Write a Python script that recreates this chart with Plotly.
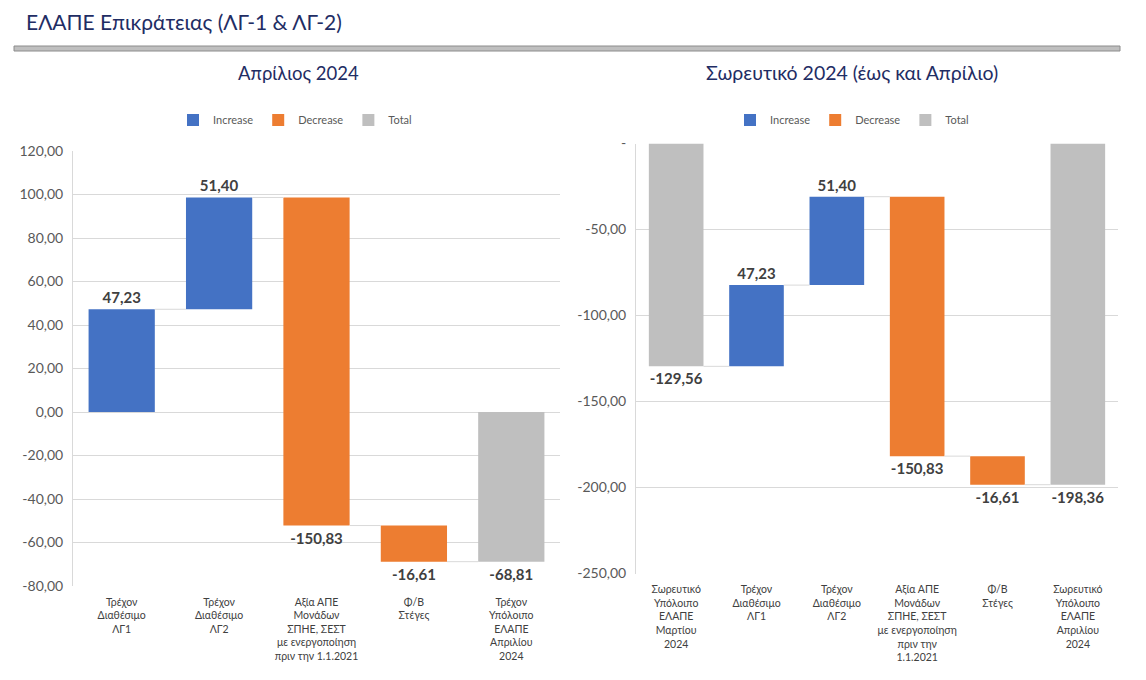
import plotly.graph_objects as go

# ---------------- data ----------------
title_main = "ΕΛΑΠΕ Επικράτειας (ΛΓ-1 & ΛΓ-2)"
left_title = "Απρίλιος 2024"
right_title = "Σωρευτικό 2024 (έως και Απρίλιο)"

left_categories = [
    "Τρέχον<br>Διαθέσιμο<br>ΛΓ1",
    "Τρέχον<br>Διαθέσιμο<br>ΛΓ2",
    "Αξία ΑΠΕ<br>Μονάδων<br>ΣΠΗΕ, ΣΕΣΤ<br>με ενεργοποίηση<br>πριν την 1.1.2021",
    "Φ/Β<br>Στέγες",
    "Τρέχον<br>Υπόλοιπο<br>ΕΛΑΠΕ<br>Απριλίου<br>2024",
]
left_values = [47.23, 51.40, -150.83, -16.61, -68.81]
left_kinds = ["Increase", "Increase", "Decrease", "Decrease", "Total"]
left_tickvals = [120, 100, 80, 60, 40, 20, 0, -20, -40, -60, -80]
left_ticktext = ["120,00", "100,00", "80,00", "60,00", "40,00", "20,00",
                 "0,00", "-20,00", "-40,00", "-60,00", "-80,00"]

right_categories = [
    "Σωρευτικό<br>Υπόλοιπο<br>ΕΛΑΠΕ<br>Μαρτίου<br>2024",
    "Τρέχον<br>Διαθέσιμο<br>ΛΓ1",
    "Τρέχον<br>Διαθέσιμο<br>ΛΓ2",
    "Αξία ΑΠΕ<br>Μονάδων<br>ΣΠΗΕ, ΣΕΣΤ<br>με ενεργοποίηση<br>πριν την<br>1.1.2021",
    "Φ/Β<br>Στέγες",
    "Σωρευτικό<br>Υπόλοιπο<br>ΕΛΑΠΕ<br>Απριλίου<br>2024",
]
right_values = [-129.56, 47.23, 51.40, -150.83, -16.61, -198.36]
right_kinds = ["Total", "Increase", "Increase", "Decrease", "Decrease", "Total"]
right_tickvals = [0, -50, -100, -150, -200, -250]
right_ticktext = ["-", "-50,00", "-100,00", "-150,00", "-200,00", "-250,00"]

# ---------------- style ----------------
W, H = 1146, 680
FONT = "Lato, 'Noto Sans', sans-serif"
NAVY = "#1F2D64"
COLORS = {"Increase": "#4472C4", "Decrease": "#ED7D31", "Total": "#BFBFBF"}
GRID = "#D9D9D9"
BAR_W = 0.68


def fmt(v):
    return f"{v:.2f}".replace(".", ",")


def px_x(p):
    return p / W


def px_y(p):
    return 1 - p / H


fig = go.Figure()


def add_panel(values, kinds, xref, yref, legend):
    n = len(values)
    bases, heights, ends = [], [], []
    running = 0.0
    for v, k in zip(values, kinds):
        if k == "Total":
            bases.append(0.0)
            heights.append(v)
            running = v
        else:
            bases.append(running)
            heights.append(v)
            running = running + v
        ends.append(running)

    # connectors between bars
    cx, cy = [], []
    for i in range(n - 1):
        cx += [i + BAR_W / 2, i + 1 - BAR_W / 2, None]
        cy += [ends[i], ends[i], None]
    fig.add_trace(go.Scatter(
        x=cx, y=cy, mode="lines", line=dict(color=GRID, width=1),
        hoverinfo="skip", showlegend=False, xaxis=xref, yaxis=yref,
    ))

    for kind in ["Increase", "Decrease", "Total"]:
        xs, ys, bs, ts = [], [], [], []
        for i, k in enumerate(kinds):
            if k == kind:
                xs.append(i)
                ys.append(heights[i])
                bs.append(bases[i])
                ts.append(fmt(values[i]))
        fig.add_trace(go.Bar(
            x=xs, y=ys, base=bs, name=kind, width=BAR_W,
            marker=dict(color=COLORS[kind], line=dict(width=0)),
            text=ts, textposition="outside", constraintext="none",
            textfont=dict(family=FONT, size=15, color="#404040", weight="bold"),
            cliponaxis=False, xaxis=xref, yaxis=yref, legend=legend,
        ))


add_panel(left_values, left_kinds, "x", "y", "legend")
add_panel(right_values, right_kinds, "x2", "y2", "legend2")

common_x = dict(showgrid=False, zeroline=False, showline=False, ticks="",
                tickfont=dict(family=FONT, size=10.5, color="#404040"),
                ticklabelstandoff=8, automargin=False, fixedrange=True)
common_y = dict(showgrid=True, gridcolor=GRID, gridwidth=1, zeroline=False,
                showline=True, linecolor=GRID, linewidth=1, ticks="",
                tickfont=dict(family=FONT, size=14, color="#595959"),
                ticklabelstandoff=6, automargin=False, tickmode="array")

legend_common = dict(orientation="h", xanchor="center", yanchor="middle",
                     font=dict(family=FONT, size=11, color="#595959"),
                     bgcolor="rgba(0,0,0,0)", itemwidth=30, traceorder="normal")

fig.update_layout(
    width=W, height=H,
    margin=dict(l=0, r=0, t=0, b=0, autoexpand=False),
    paper_bgcolor="white", plot_bgcolor="white",
    font=dict(family=FONT),
    barmode="overlay",
    showlegend=True,
    xaxis=dict(domain=[px_x(73), px_x(560)], range=[-0.5, len(left_values) - 0.5],
               tickvals=list(range(len(left_values))), ticktext=left_categories,
               anchor="y", **common_x),
    yaxis=dict(domain=[px_y(586), px_y(151)], range=[-80, 120],
               tickvals=left_tickvals, ticktext=left_ticktext, anchor="x", **common_y),
    xaxis2=dict(domain=[px_x(636), px_x(1118)], range=[-0.5, len(right_values) - 0.5],
                tickvals=list(range(len(right_values))), ticktext=right_categories,
                anchor="y2", **common_x),
    yaxis2=dict(domain=[px_y(573.5), px_y(143.5)], range=[-250, 0],
                tickvals=right_tickvals, ticktext=right_ticktext, anchor="x2", **common_y),
    legend=dict(x=px_x(295), y=px_y(120), **legend_common),
    legend2=dict(x=px_x(852), y=px_y(120), **legend_common),
    shapes=[dict(type="rect", xref="paper", yref="paper",
                 x0=px_x(14), x1=px_x(1120), y0=px_y(51), y1=px_y(46),
                 fillcolor="#BFBFBF", line=dict(color="#8C8C8C", width=1))],
    annotations=[
        dict(text=title_main, xref="paper", yref="paper", x=px_x(24), y=px_y(22),
             xanchor="left", yanchor="middle", showarrow=False,
             font=dict(family=FONT, size=21, color=NAVY)),
        dict(text=left_title, xref="paper", yref="paper", x=px_x(298), y=px_y(73),
             xanchor="center", yanchor="middle", showarrow=False,
             font=dict(family=FONT, size=18.5, color=NAVY)),
        dict(text=right_title, xref="paper", yref="paper", x=px_x(852), y=px_y(73),
             xanchor="center", yanchor="middle", showarrow=False,
             font=dict(family=FONT, size=19.5, color=NAVY)),
    ],
)

fig.write_html("out.html")
